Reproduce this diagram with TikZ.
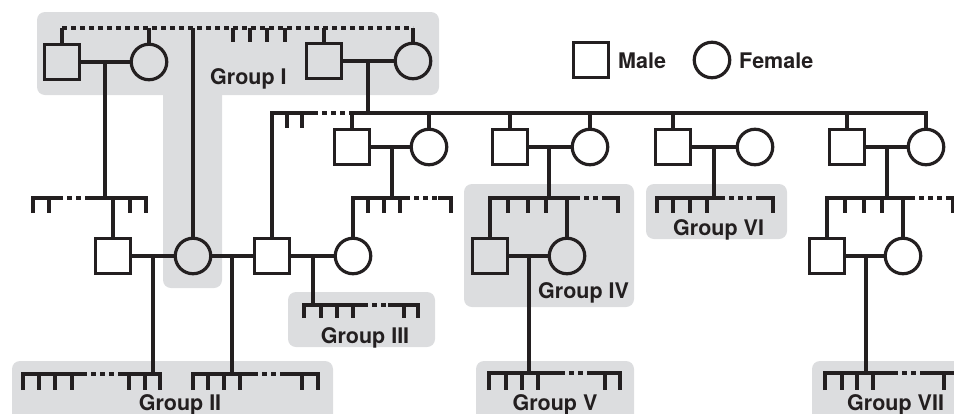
\documentclass[tikz,border=0pt]{standalone}
\usepackage{fontspec}
\setmainfont{TeX Gyre Heros}
\definecolor{ink}{HTML}{231F20}
\definecolor{grpgray}{HTML}{DCDDDF}
\begin{document}
\begin{tikzpicture}[x=1pt,y=-1pt,
  ln/.style={draw=ink, line width=3.2pt},
  dsh/.style={ln, dash pattern=on 5pt off 4pt},
  male/.style={draw=ink, line width=3.2pt, rectangle, minimum size=35.5pt, inner sep=0pt},
  female/.style={draw=ink, line width=3.2pt, circle, minimum size=35.5pt, inner sep=0pt},
  grp/.style={fill=grpgray, rounded corners=8pt},
  lbl/.style={font=\bfseries\fontsize{21.5}{21.5}\selectfont, text=ink, inner sep=0pt}]
\useasboundingbox (0,0) rectangle (954,413);
\clip (0,0) rectangle (954,413);

% group backgrounds
\fill[grp] (37,12) rectangle (439,95);
\fill[grp] (163,60) rectangle (222,288);
\fill[grp] (288,292) rectangle (435,347);
\fill[grp] (12,361) rectangle (333,430);
\fill[grp] (464,184) rectangle (634,307);
\fill[grp] (476,361) rectangle (634,430);
\fill[grp] (646,184) rectangle (787,239);
\fill[grp] (812,361) rectangle (980,430);

% generation I
\node[male] (m1) at (62,62) {};
\node[female] (f1) at (149,62) {};
\node[male] (m2) at (324,61) {};
\node[female] (f2) at (413,61) {};
% generation II
\node[male] (p1m) at (352,147) {};
\node[female] (p1f) at (429,147) {};
\node[male] (p2m) at (510,147) {};
\node[female] (p2f) at (590,147) {};
\node[male] (p3m) at (673,147) {};
\node[female] (p3f) at (755,147) {};
\node[male] (p4m) at (847,147) {};
\node[female] (p4f) at (926,147) {};
% generation III
\node[male] (m4) at (113,256) {};
\node[female] (f3) at (193,256) {};
\node[male] (m3) at (272,256) {};
\node[female] (f4) at (353,256) {};
\node[male] (m5) at (490,256) {};
\node[female] (f5) at (567,256) {};
\node[male] (m6) at (827,256) {};
\node[female] (f6) at (903,256) {};

% legend
\node[male] (lm) at (591,60) {};
\node[lbl, anchor=base west] (lmt) at (618,68) {Male};
\node[female] (lf) at (712,60) {};
\node[lbl, anchor=base west] (lft) at (739,68) {Female};

% labels
\node[lbl, anchor=base west] (g1) at (210,84) {Group I};
\node[lbl, anchor=base] (g2) at (180,410) {Group II};
\node[lbl, anchor=base] (g3) at (365,343) {Group III};
\node[lbl, anchor=base west] (g4) at (538,298) {Group IV};
\node[lbl, anchor=base] (g5) at (555,410) {Group V};
\node[lbl, anchor=base west] (g6) at (673,235) {Group VI};
\node[lbl, anchor=base west] (g7) at (847,410) {Group VII};

% top dashed sibship
\draw[dsh] (62,28) -- (413,28);
\draw[ln] (62,28) -- (m1.north);
\draw[ln] (149,28) -- (f1.north);
\draw[ln] (324,28) -- (m2.north);
\draw[ln] (413,28) -- (f2.north);
\draw[ln] (193,28) -- (f3.north);
\foreach \x in {233,250,267,285} \draw[ln] (\x,28) -- (\x,42);

% marriages generation I
\draw[ln] (m1.east) -- (f1.west);
\draw[ln] (105,62) -- (105,198);
\draw[ln] (m2.east) -- (f2.west);
\draw[ln] (368,61) -- (368,113);

% big sibship
\draw[ln] (m3.north) -- (272,113) -- (313,113);
\draw[dsh] (313,113) -- (350,113);
\draw[ln] (350,113) -- (926,113) -- (p4f.north);
\foreach \x in {287,302} \draw[ln] (\x,113) -- (\x,128);
\draw[ln] (352,113) -- (p1m.north);
\draw[ln] (429,113) -- (p1f.north);
\draw[ln] (510,113) -- (p2m.north);
\draw[ln] (590,113) -- (p2f.north);
\draw[ln] (673,113) -- (p3m.north);
\draw[ln] (847,113) -- (p4m.north);

% marriages generation II
\draw[ln] (p1m.east) -- (p1f.west);
\draw[ln] (392,147) -- (392,198);
\draw[ln] (p2m.east) -- (p2f.west);
\draw[ln] (549,147) -- (549,198);
\draw[ln] (p3m.east) -- (p3f.west);
\draw[ln] (714,147) -- (714,198);
\draw[ln] (p4m.east) -- (p4f.west);
\draw[ln] (887,147) -- (887,198);

% sibship L1
\draw[ln] (33,213) -- (33,198) -- (58,198);
\draw[dsh] (58,198) -- (88,198);
\draw[ln] (88,198) -- (146,198) -- (146,213);
\foreach \x in {49,130} \draw[ln] (\x,198) -- (\x,213);
\draw[ln] (113,198) -- (m4.north);
% sibship L2
\draw[ln] (f4.north) -- (353,198) -- (405,198);
\draw[dsh] (405,198) -- (438,198);
\draw[ln] (438,198) -- (451,198) -- (451,213);
\foreach \x in {368,384,400} \draw[ln] (\x,198) -- (\x,213);
% sibship L3 (Group IV)
\draw[ln] (m5.north) -- (490,198) -- (575,198);
\draw[dsh] (575,198) -- (607,198);
\draw[ln] (607,198) -- (618,198) -- (618,213);
\foreach \x in {508,528,546} \draw[ln] (\x,198) -- (\x,213);
\draw[ln] (567,198) -- (f5.north);
% sibship L4 (Group VI)
\draw[ln] (657,213) -- (657,198) -- (720,198);
\draw[dsh] (720,198) -- (758,198);
\draw[ln] (758,198) -- (773,198) -- (773,213);
\foreach \x in {673,690,707} \draw[ln] (\x,198) -- (\x,213);
% sibship L5
\draw[ln] (m6.north) -- (827,198) -- (910,198);
\draw[dsh] (910,198) -- (947,198);
\draw[ln] (947,198) -- (953,198) -- (953,213);
\foreach \x in {845,864,882} \draw[ln] (\x,198) -- (\x,213);
\draw[ln] (903,198) -- (f6.north);

% marriages generation III
\draw[ln] (m4.east) -- (f3.west);
\draw[ln] (153,256) -- (153,374);
\draw[ln] (f3.east) -- (m3.west);
\draw[ln] (232,256) -- (232,374);
\draw[ln] (m3.east) -- (f4.west);
\draw[ln] (313,256) -- (313,305);
\draw[ln] (m5.east) -- (f5.west);
\draw[ln] (529,256) -- (529,373);
\draw[ln] (m6.east) -- (f6.west);
\draw[ln] (866,256) -- (866,373);

% Group II sibships
\draw[ln] (23,390) -- (23,374) -- (82,374);
\draw[dsh] (82,374) -- (122,374);
\draw[ln] (122,374) -- (160,374) -- (160,390);
\foreach \x in {39,55,72,129,145} \draw[ln] (\x,374) -- (\x,390);
\draw[ln] (193,390) -- (193,374) -- (253,374);
\draw[dsh] (253,374) -- (285,374);
\draw[ln] (285,374) -- (318,374) -- (318,390);
\foreach \x in {208,224,240,302} \draw[ln] (\x,374) -- (\x,390);
% Group III sibship
\draw[ln] (304,318) -- (304,305) -- (363,305);
\draw[dsh] (363,305) -- (388,305);
\draw[ln] (388,305) -- (418,305) -- (418,318);
\foreach \x in {321,337,353,404} \draw[ln] (\x,305) -- (\x,318);
% Group V sibship
\draw[ln] (489,390) -- (489,373) -- (560,373);
\draw[dsh] (560,373) -- (590,373);
\draw[ln] (590,373) -- (620,373) -- (620,390);
\foreach \x in {506,522,538,605} \draw[ln] (\x,373) -- (\x,390);
% Group VII sibship
\draw[ln] (825,390) -- (825,373) -- (893,373);
\draw[dsh] (893,373) -- (925,373);
\draw[ln] (925,373) -- (965,373);
\foreach \x in {842,857,873,944} \draw[ln] (\x,373) -- (\x,390);
\end{tikzpicture}
\end{document}
